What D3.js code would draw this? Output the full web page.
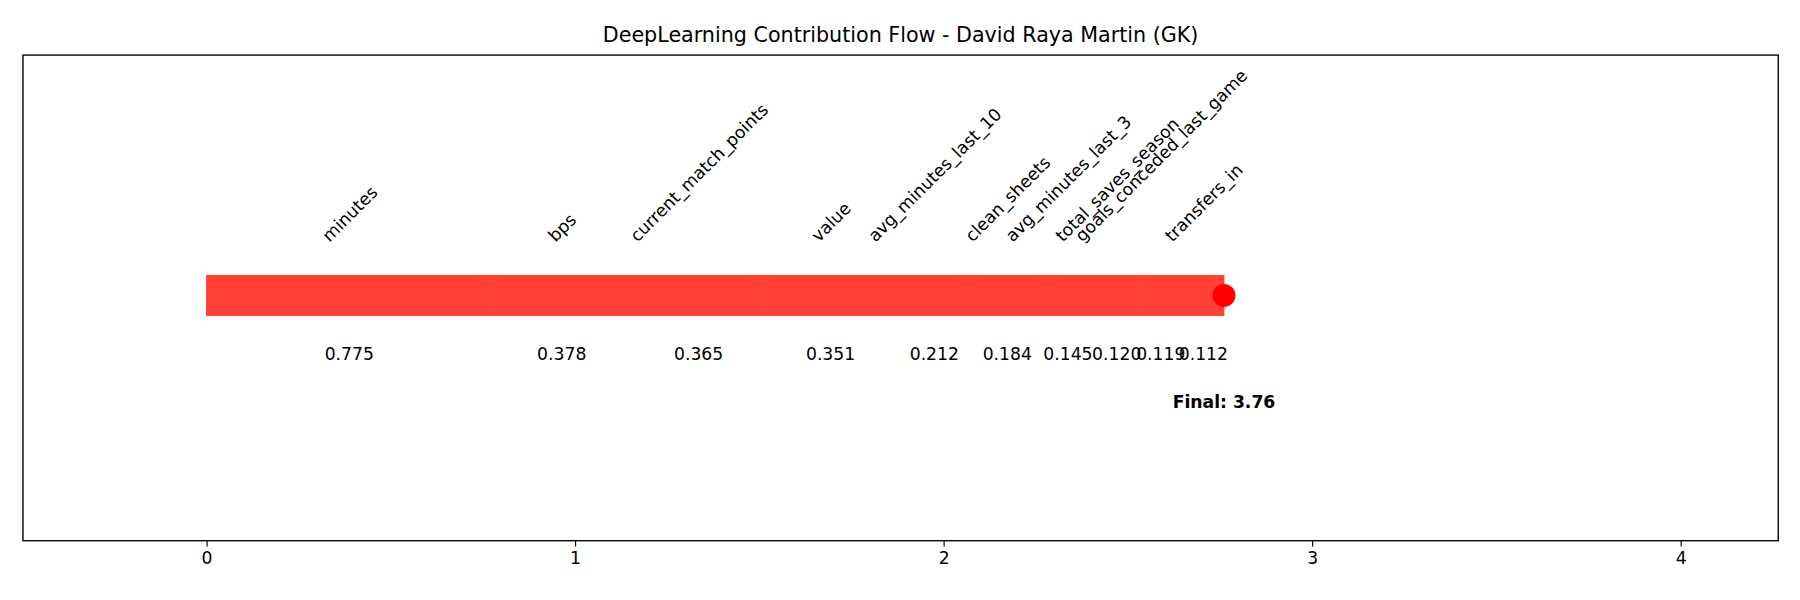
<!DOCTYPE html>
<html><head><meta charset="utf-8">
<script src="https://cdn.jsdelivr.net/npm/d3@7"></script>
<style>body{margin:0;background:#fff;font-family:"DejaVu Sans",sans-serif;}</style>
</head><body><svg id="c" width="1800" height="600"></svg>
<script>
const features = ["minutes","bps","current_match_points","value","avg_minutes_last_10","clean_sheets","avg_minutes_last_3","total_saves_season","goals_conceded_last_game","transfers_in"];
const contributions = [0.775,0.378,0.365,0.351,0.212,0.184,0.145,0.120,0.119,0.112];
const finalValue = 3.76;
const xTicks = [0,1,2,3,4];
const title = "DeepLearning Contribution Flow - David Raya Martin (GK)";

const svg = d3.select("#c").append("g").attr("transform","scale(1.148)");
const L=20,R=1549,T=48,B=471;
const x = d3.scaleLinear().domain([-0.498,4.265]).range([L,R]);
const y = d3.scaleLinear().domain([-1,1]).range([B,T]);
const y0 = 0.01;
let cum=0;
const segs = contributions.map((v,i)=>{const s={f:features[i],v,a:cum,b:cum+v};cum+=v;return s;});
const bh = 35;
svg.selectAll("rect.seg").data(segs).join("rect").attr("class","seg")
  .attr("x",d=>x(d.a)).attr("width",d=>x(d.b)-x(d.a))
  .attr("y",y(y0)-bh/2).attr("height",bh).attr("fill","#ff4136")
  .attr("stroke","#ff4136").attr("stroke-width",0.8);
svg.append("circle").attr("cx",x(cum)).attr("cy",y(y0)).attr("r",10).attr("fill","#ff0000");
svg.selectAll("text.val").data(segs).join("text").attr("class","val")
  .attr("x",d=>x((d.a+d.b)/2)).attr("y",y(y0)+56).attr("text-anchor","middle")
  .attr("font-size",15).text(d=>d.v.toFixed(3));
const lab = svg.selectAll("g.lab").data(segs).join("g").attr("class","lab");
lab.append("text").attr("font-size",15).text(d=>d.f);
lab.each(function(d){
  const t=d3.select(this).select("text");
  const Lw=t.node().getComputedTextLength();
  const w=Lw*0.7071+11*0.7071;
  d3.select(this).attr("transform",`translate(${x((d.a+d.b)/2)-w/2+8},${y(y0)-46}) rotate(-45)`);
});
svg.append("text").attr("x",x(cum)).attr("y",y(y0)+98).attr("text-anchor","middle")
  .attr("font-size",15).attr("font-weight","bold").text("Final: "+finalValue.toFixed(2));
svg.append("rect").attr("x",L).attr("y",T).attr("width",R-L).attr("height",B-T)
  .attr("fill","none").attr("stroke","#000").attr("stroke-width",1.2);
const ax = svg.append("g").attr("transform",`translate(0,${B})`)
  .call(d3.axisBottom(x).tickValues(xTicks).tickFormat(d3.format("d")).tickSize(5).tickPadding(5));
ax.select(".domain").remove();
ax.selectAll("text").attr("font-size",15).attr("font-family","DejaVu Sans").attr("fill","#000");
svg.append("text").attr("x",(L+R)/2).attr("y",37).attr("text-anchor","middle")
  .attr("font-size",18).text(title);
</script></body></html>
